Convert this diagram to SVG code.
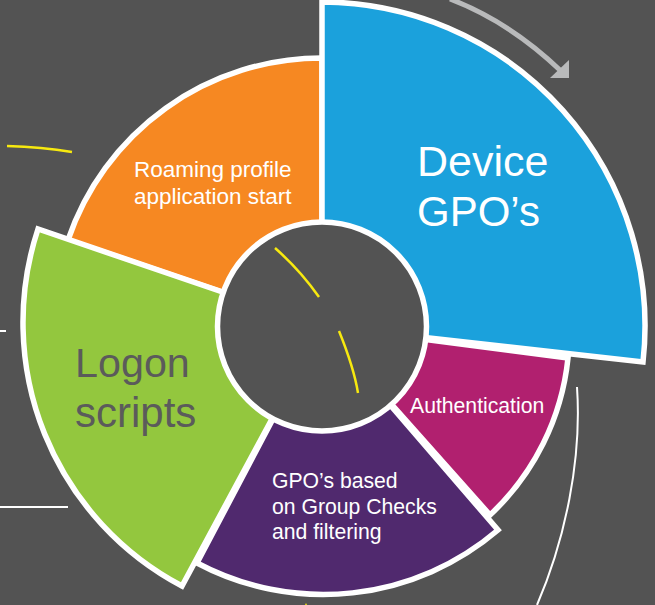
<svg xmlns="http://www.w3.org/2000/svg" width="655" height="605" viewBox="0 0 655 605">
<style>
.seg{stroke:#fff;stroke-width:5.500;stroke-linejoin:miter}
text{font-family:"Liberation Sans",Arial,sans-serif}
.s{font-size:21.200px;fill:#fff}
.o{font-size:22.500px;fill:#fff}
.l{font-size:42px}
.y{fill:none;stroke:#f7e90f;stroke-width:2.500}
.w{fill:none;stroke:#fff;stroke-width:2}
</style>
<rect width="655" height="605" fill="#535353"/>
<g id="connectors">
<path d="M450 -1Q510 22 561 71" fill="none" stroke="#b9babb" stroke-width="5"/>
<polygon points="569,60 569,78 550,78" fill="#b9babb"/>
<path class="y" d="M7 146Q42 147 72 152"/>
<path class="w" d="M0 331H6"/>
<path class="w" d="M0 507H68"/>
<path class="w" d="M577 387C582 460 565 540 537 605"/>
<path d="M305 605L306 603L307 605Z" fill="#f7e90f"/>
</g>
<g id="node-roaming">
<path class="seg" fill="#f68822" d="M322 326V58A268 268 0 0 0 68 240Z"/>
<text class="o" x="134" y="177">Roaming profile</text>
<text class="o" x="134" y="204">application start</text>
</g>
<g id="node-authentication">
<path class="seg" fill="#b1206f" d="M322 326L568 358A250 250 0 0 1 490 515Z"/>
<text class="s" x="410" y="413">Authentication</text>
</g>
<g id="node-gpo-group">
<path class="seg" fill="#50296e" d="M322 326L498 530A269 269 0 0 1 197 563Z"/>
<text class="s" x="272" y="488">GPO’s based</text>
<text class="s" x="272" y="514">on Group Checks</text>
<text class="s" x="272" y="539">and filtering</text>
</g>
<g id="node-logon">
<path class="seg" fill="#93c73e" d="M322 326L38 229A298 298 0 0 0 182 586Z"/>
<text fill="#5b5b5b" font-size="41.300" x="75" y="377">Logon</text>
<text class="l" fill="#5b5b5b" x="75" y="427">scripts</text>
</g>
<g id="node-device">
<path class="seg" fill="#1ba1dc" d="M322 326V2A324 324 0 0 1 643 362Z"/>
<text fill="#fff" font-size="43" x="417" y="176">Device</text>
<text class="l" fill="#fff" x="417" y="226">GPO’s</text>
</g>
<g id="node-center">
<circle cx="322" cy="326.500" r="104.500" fill="#535353" stroke="#fff" stroke-width="5.500"/>
<path class="y" d="M275 248Q300 270 319 297"/>
<path class="y" d="M339 331Q354 368 358 393"/>
</g>
</svg>
